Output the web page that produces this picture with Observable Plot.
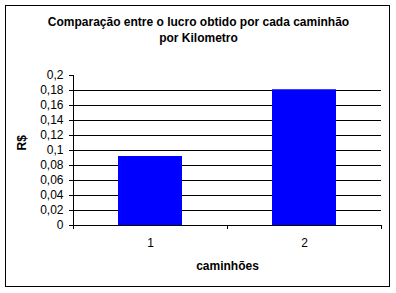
<!DOCTYPE html>
<html>
<head>
<meta charset="utf-8">
<script src="https://cdn.jsdelivr.net/npm/d3@7"></script>
<script src="https://cdn.jsdelivr.net/npm/@observablehq/plot@0.6"></script>
<style>
  html, body { margin: 0; padding: 0; background: #fff; }
  #wrap { position: relative; width: 396px; height: 293px; }
  #border { position: absolute; left: 5px; top: 5px; width: 385px; height: 282px; border: 1px solid #000; box-sizing: border-box; pointer-events: none; }
  svg { font-family: "Liberation Sans", Arial, sans-serif; }
</style>
</head>
<body>
<div id="wrap"><div id="border"></div></div>
<script>
const categories = ["1", "2"];
const values = [0.092, 0.181];
const yTicks = [0, 0.02, 0.04, 0.06, 0.08, 0.1, 0.12, 0.14, 0.16, 0.18, 0.2];
const gridValues = [0.02, 0.04, 0.06, 0.08, 0.1, 0.12, 0.14, 0.16, 0.18];
const titleLines = ["Comparação entre o lucro obtido por cada caminhão", "por Kilometro"];
const yLabel = "R$";
const xLabel = "caminhões";

const data = categories.map((c, i) => ({cat: c, value: values[i]}));

const W = 396, H = 293, mL = 73, mR = 15, mT = 75, mB = 68;
const step = (W - mL - mR) / categories.length;
const fmt = d => String(+d.toFixed(2)).replace(".", ",");

const chart = Plot.plot({
  width: W, height: H,
  marginLeft: mL, marginRight: mR, marginTop: mT, marginBottom: mB,
  style: {fontFamily: '"Liberation Sans", Arial, sans-serif', fontSize: "12px", color: "#000", background: "transparent"},
  x: {type: "band", domain: categories, paddingInner: 0.584, paddingOuter: 0.292, axis: null},
  y: {domain: [0, 0.2], axis: null},
  marks: [
    Plot.ruleY(gridValues, {stroke: "#000", strokeWidth: 1}),
    Plot.barY(data, {x: "cat", y: "value", fill: "#0000ff"}),
    Plot.ruleY([0], {stroke: "#000", strokeWidth: 1}),
    Plot.frame({anchor: "left", stroke: "#000", strokeOpacity: 1}),
    Plot.axisY({ticks: yTicks, tickFormat: fmt, tickSize: 4, tickPadding: 6, stroke: "#000", strokeOpacity: 1, fontSize: 12, label: null}),
    Plot.axisX({tickSize: 0, tickPadding: 13, label: null, fontSize: 12}),
    Plot.axisX({tickSize: 4, tickFormat: () => "", dx: step / 2, label: null, strokeOpacity: 1}),
    Plot.axisX({tickSize: 4, tickFormat: () => "", dx: -step / 2, label: null, strokeOpacity: 1}),
    Plot.text([xLabel], {frameAnchor: "bottom", lineAnchor: "middle", dy: 41, fontWeight: "bold", fontSize: 12, fill: "#000"}),
    Plot.text([yLabel], {frameAnchor: "left", dx: -51, rotate: -90, fontWeight: "bold", fontSize: 12, fill: "#000"}),
    Plot.text([titleLines[0]], {frameAnchor: "top", lineAnchor: "middle", dy: -53, dx: -29, fontWeight: "bold", fontSize: 12, fill: "#000"}),
    Plot.text([titleLines[1]], {frameAnchor: "top", lineAnchor: "middle", dy: -37, dx: -29, fontWeight: "bold", fontSize: 12, fill: "#000"})
  ]
});
document.getElementById("wrap").prepend(chart);
</script>
</body>
</html>
